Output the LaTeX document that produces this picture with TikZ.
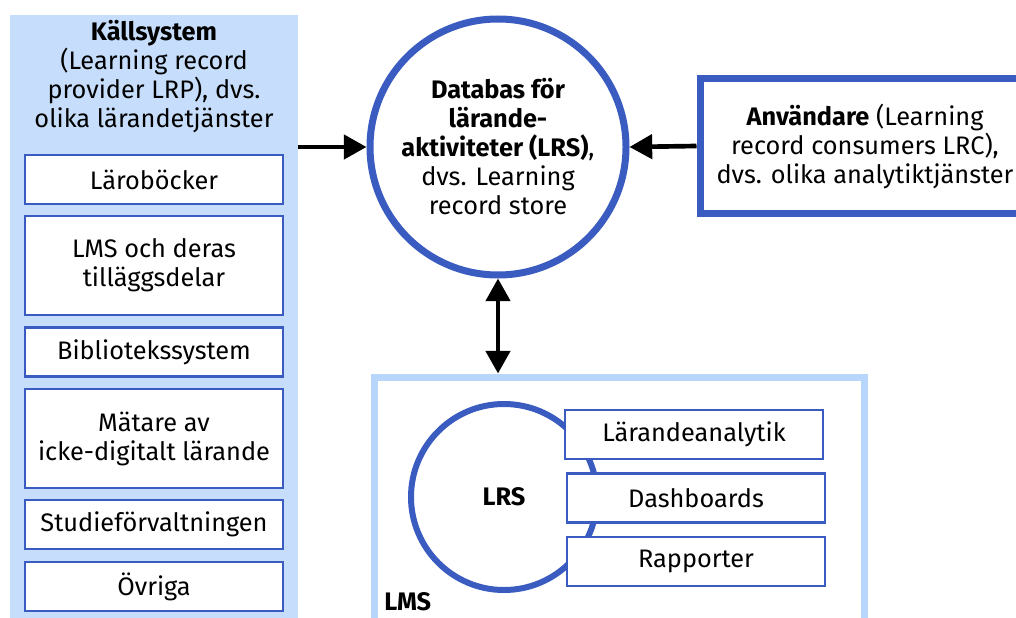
\documentclass[tikz,border=0pt]{standalone}
\usepackage{fontspec}
\setmainfont{Fira Sans}
\usetikzlibrary{arrows.meta}
\begin{document}
\begin{tikzpicture}[x=0.75pt,y=-0.75pt,>={Triangle[length=17pt,width=18pt]}]
\definecolor{bleu}{HTML}{3A5BC0}
\definecolor{clair}{HTML}{C6DEFC}
\definecolor{cadre}{HTML}{B8D5FC}
\tikzset{
  texte/.style={font=\fontsize{19}{21.75}\selectfont},
  gras/.style={font=\fontsize{19}{21.75}\selectfont\bfseries},
  boite/.style={draw=bleu,line width=1.9pt,fill=white,minimum width=193.5pt,minimum height=36.75pt,align=center,texte},
  grande/.style={boite,minimum height=74.25pt},
  fleche/.style={line width=3.5pt}
}
\useasboundingbox (0,0) rectangle (1016,617);
\clip (0,0) rectangle (1016,617);

\node [fill=clair,minimum width=216pt,minimum height=461.25pt,inner sep=0] (kallsystem) at (154,322.5) {};%le panneau des sources
\node [align=center,texte] (titre) at (154,77) {\textbf{Källsystem}\\(Learning record\\provider LRP), dvs.\\olika lärandetjänster};

\node [boite] (larobocker) at (154,179.5) {Läroböcker};
\node [grande] (lms1) at (154,265.5) {LMS och deras\\tilläggsdelar};
\node [boite] (bibliotek) at (154,352) {Bibliotekssystem};
\node [grande] (matare) at (154,438.5) {Mätare av\\icke-digitalt lärande};
\node [boite] (studie) at (154,524.5) {Studieförvaltningen};
\node [boite] (ovriga) at (154,586.5) {Övriga};

\node [circle,draw=bleu,line width=5.25pt,minimum size=192pt,align=center,inner sep=0,texte] (databas) at (498,147) {\textbf{Databas för}\\\textbf{lärande-}\\\textbf{aktiviteter (LRS)},\\dvs. Learning\\record store};%la base LRS

\node [draw=bleu,line width=5.25pt,minimum width=247.5pt,minimum height=101.25pt,align=center,texte] (anvandare) at (865,146) {\textbf{Användare} (Learning\\record consumers LRC),\\dvs. olika analytiktjänster};

\node [draw=cadre,line width=5.25pt,minimum width=367.5pt,minimum height=200pt,anchor=north west] (lms) at (370.5,373.5) {};%le cadre LMS
\node [gras,anchor=west,inner sep=0] (lmstexte) at (384,602) {LMS};

\node [circle,draw=bleu,line width=4.5pt,minimum size=139.5pt,inner sep=0,gras] (lrs) at (504,497) {LRS};
\node [boite] (analytik) at (694,434.5) {Lärandeanalytik};
\node [boite] (dashboards) at (696,498) {Dashboards};
\node [boite] (rapporter) at (696,561.5) {Rapporter};

\draw [->,fleche] (kallsystem.east |- databas.west) -- (databas.west);
\draw [->,fleche] (anvandare.west) -- (databas.east);
\draw [<->,fleche] (databas.south) -- (databas.south |- lms.north);
\end{tikzpicture}
\end{document}
